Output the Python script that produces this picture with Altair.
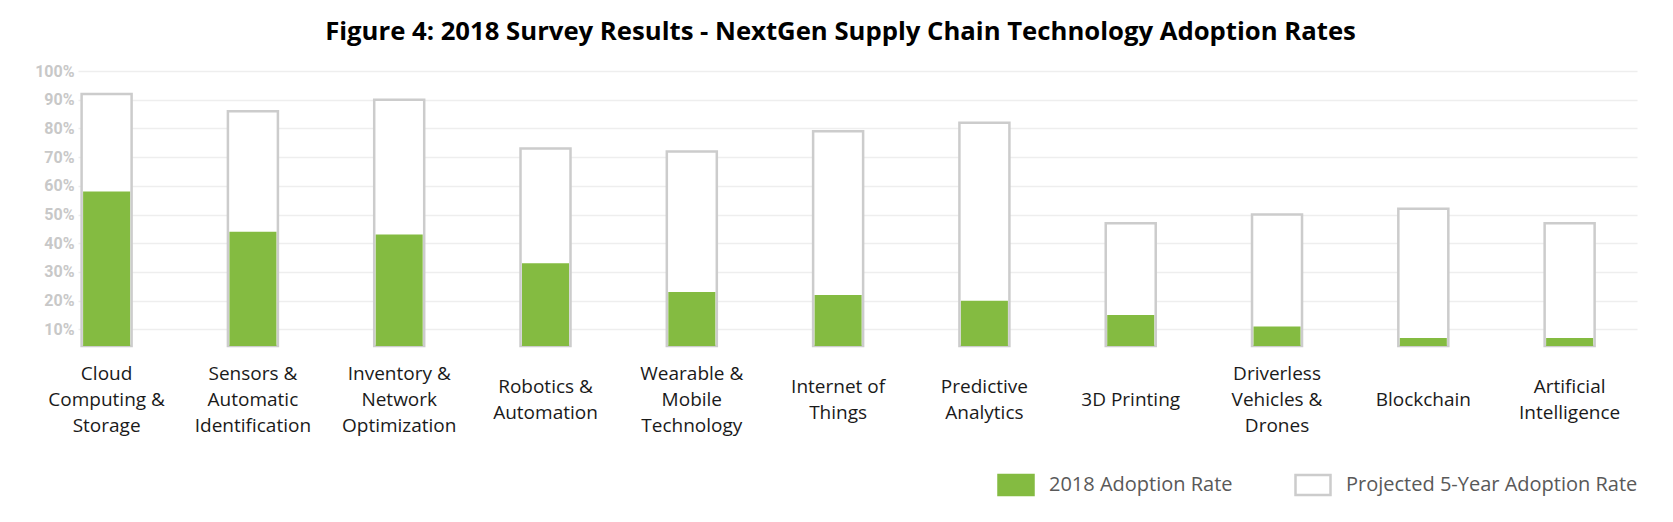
import altair as alt
import pandas as pd

categories = [
    "Cloud\nComputing &\nStorage",
    "Sensors &\nAutomatic\nIdentification",
    "Inventory &\nNetwork\nOptimization",
    "Robotics &\nAutomation",
    "Wearable &\nMobile\nTechnology",
    "Internet of\nThings",
    "Predictive\nAnalytics",
    "3D Printing",
    "Driverless\nVehicles &\nDrones",
    "Blockchain",
    "Artificial\nIntelligence",
]
adoption_2018 = [58, 44, 43, 33, 23, 22, 20, 15, 11, 7, 7]
projected_5yr = [92, 86, 90, 73, 72, 79, 82, 47, 50, 52, 47]
series_names = ["2018 Adoption Rate", "Projected 5-Year Adoption Rate"]
y_ticks = [10, 20, 30, 40, 50, 60, 70, 80, 90, 100]
title_text = "Figure 4: 2018 Survey Results - NextGen Supply Chain Technology Adoption Rates"

rows = []
for c, a, p in zip(categories, adoption_2018, projected_5yr):
    rows.append({"category": c, "series": series_names[0], "value": a})
    rows.append({"category": c, "series": series_names[1], "value": p})
df = pd.DataFrame(rows)
labels_df = pd.DataFrame({"category": categories})

GREEN = "#84bb41"
GRAY = "#cccccc"

x_scale = alt.Scale(domain=categories, paddingInner=0.609, paddingOuter=0.1325, align=0)
x_enc = alt.X("category:N", sort=categories, scale=x_scale, axis=None)

y_enc = alt.Y(
    "value:Q",
    scale=alt.Scale(domain=[4.2, 100], clamp=True, nice=False, zero=False),
    axis=alt.Axis(
        values=y_ticks,
        labelExpr="datum.value + '%'",
        title=None,
        ticks=False,
        domain=False,
        labelFont="Roboto",
        labelFontWeight="bold",
        labelFontSize=16,
        labelColor="#c8c8c8",
        labelPadding=4,
        gridColor="#eeeeee",
        gridWidth=1.5,
    ),
)

legend_kw = dict(
    title=None,
    orient="none",
    legendX=919,
    legendY=395,
    direction="horizontal",
    symbolType="M-1,-0.57H1V0.57H-1Z",
    symbolSize=1225,
    symbolStrokeWidth=2.5,
    labelFont="Open Sans",
    labelFontSize=20,
    labelColor="#595959",
    labelOffset=14,
    labelLimit=0,
    columnPadding=57,
    padding=0,
)

fill_enc = alt.Fill(
    "series:N",
    scale=alt.Scale(domain=series_names, range=[GREEN, "#ffffff"]),
    legend=alt.Legend(**legend_kw),
)
stroke_enc = alt.Stroke(
    "series:N",
    scale=alt.Scale(domain=series_names, range=[GREEN, GRAY]),
    legend=alt.Legend(**legend_kw),
)

base = alt.Chart(df)

projected_layer = base.transform_filter(
    alt.datum.series == series_names[1]
).mark_bar(size=50, strokeWidth=2.5).encode(
    x=x_enc, y=y_enc, y2=alt.datum(0), fill=fill_enc, stroke=stroke_enc
)

current_layer = base.transform_filter(
    alt.datum.series == series_names[0]
).mark_bar(size=47, strokeWidth=0).encode(
    x=x_enc, y=y_enc, y2=alt.datum(0), fill=fill_enc, stroke=stroke_enc
)

label_layer = alt.Chart(labels_df).mark_text(
    baseline="middle",
    align="center",
    lineBreak="\n",
    lineHeight=26,
    font="Open Sans",
    fontSize=19,
    color="#1a1a1a",
    dy=alt.ExprRef("-(length(split(datum.category, '\\n')) - 1) * 13"),
).encode(
    x=x_enc,
    y=alt.value(329),
    text="category:N",
)

chart = alt.layer(projected_layer, current_layer, label_layer).properties(
    width=1559,
    height=275,
    autosize=alt.AutoSizeParams(type="none"),
    padding={"left": 70, "top": 63, "right": 20, "bottom": 160},
    title=alt.Title(
        title_text,
        font="Open Sans",
        fontSize=25.7,
        fontWeight="bold",
        color="#000000",
        anchor="middle",
        frame="group",
        baseline="alphabetic",
        offset=0,
        dx=-17,
        dy=3,
    ),
).configure_view(stroke=None)

chart.save("out.html", embed_options={"renderer": "svg", "actions": False})
